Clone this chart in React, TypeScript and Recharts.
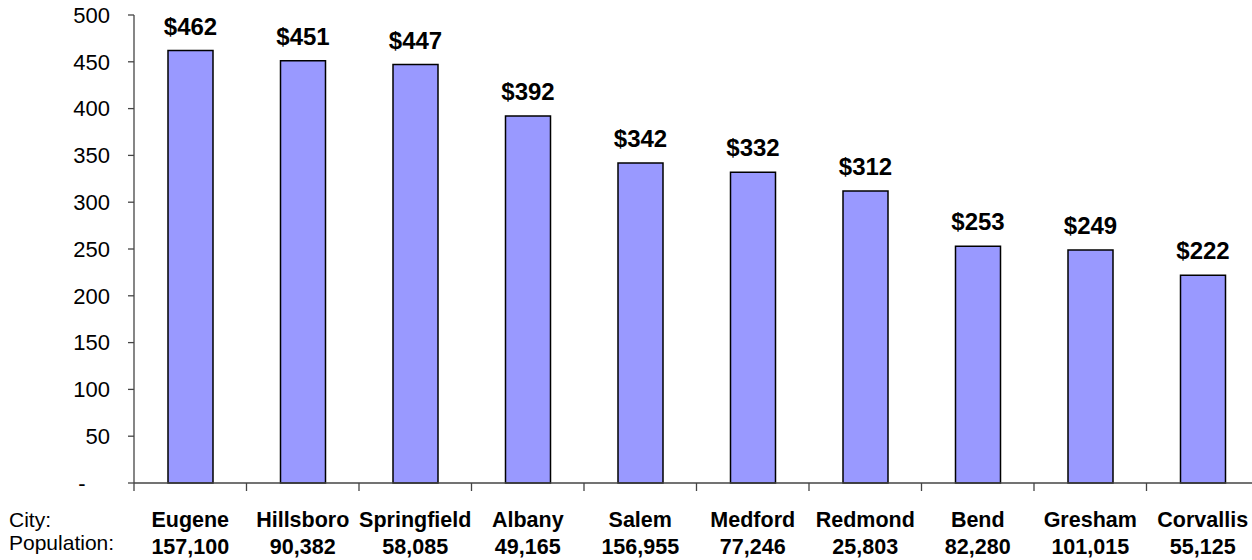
import { BarChart, Bar, XAxis, YAxis, LabelList } from 'recharts';

const cities = ['Eugene', 'Hillsboro', 'Springfield', 'Albany', 'Salem', 'Medford', 'Redmond', 'Bend', 'Gresham', 'Corvallis'];
const population = ['157,100', '90,382', '58,085', '49,165', '156,955', '77,246', '25,803', '82,280', '101,015', '55,125'];
const values = [462, 451, 447, 392, 342, 332, 312, 253, 249, 222];
const yTicks = [0, 50, 100, 150, 200, 250, 300, 350, 400, 450, 500];

const FONT = "'Liberation Sans', Arial, sans-serif";
const AXIS = '#444444';

const data = cities.map((city, i) => ({ city, population: population[i], value: values[i] }));

// category label (two lines) plus Excel-style tick marks between categories
function CityTick(props: any) {
  const { x, y, payload, index } = props;
  const half = payload.offset || 0;
  return (
    <g>
      <line x1={x - half} x2={x - half} y1={y} y2={y + 8} stroke={AXIS} strokeWidth={1.3} />
      {index === cities.length - 1 && (
        <line x1={x + half} x2={x + half} y1={y} y2={y + 8} stroke={AXIS} strokeWidth={1.3} />
      )}
      <text x={x} y={y} dy={44} textAnchor="middle" fontFamily={FONT} fontSize={21.5} fontWeight="bold" fill="#000">
        {payload.value}
      </text>
      <text x={x} y={y} dy={71} textAnchor="middle" fontFamily={FONT} fontSize={21.5} fontWeight="bold" fill="#000">
        {population[index]}
      </text>
    </g>
  );
}

export default function App() {
  return (
    <div style={{ position: 'absolute', left: 0, top: 0, width: 1252, height: 560, overflow: 'hidden', background: '#fff' }}>
      <BarChart width={1260} height={560} data={data} margin={{ top: 15, right: 1, left: 0, bottom: 0 }}>
        <XAxis
          dataKey="city"
          height={77}
          stroke={AXIS}
          strokeWidth={1.3}
          tickLine={false}
          tickSize={0}
          tickMargin={0}
          interval={0}
          tick={<CityTick />}
        />
        <YAxis
          domain={[0, 500]}
          ticks={yTicks}
          width={134}
          tickSize={6}
          tickMargin={18}
          stroke={AXIS}
          strokeWidth={1.3}
          tick={{ fill: '#000', fontFamily: FONT, fontSize: 22 }}
          tickFormatter={(v: number) => (v === 0 ? '-\u00A0\u00A0\u00A0\u00A0' : String(v))}
        />
        <Bar dataKey="value" fill="#9999FF" stroke="#000" strokeWidth={1.5} barSize={45} isAnimationActive={false}>
          <LabelList
            dataKey="value"
            position="top"
            offset={16}
            formatter={(v: any) => `$${v}`}
            style={{ fontFamily: FONT, fontSize: 24, fontWeight: 'bold', fill: '#000' }}
          />
        </Bar>
      </BarChart>
      <svg width={130} height={60} style={{ position: 'absolute', left: 0, top: 500 }}>
        <text x={9} y={27} fontFamily={FONT} fontSize={21} fill="#000">City:</text>
        <text x={9} y={50} fontFamily={FONT} fontSize={21} fill="#000">Population:</text>
      </svg>
    </div>
  );
}
